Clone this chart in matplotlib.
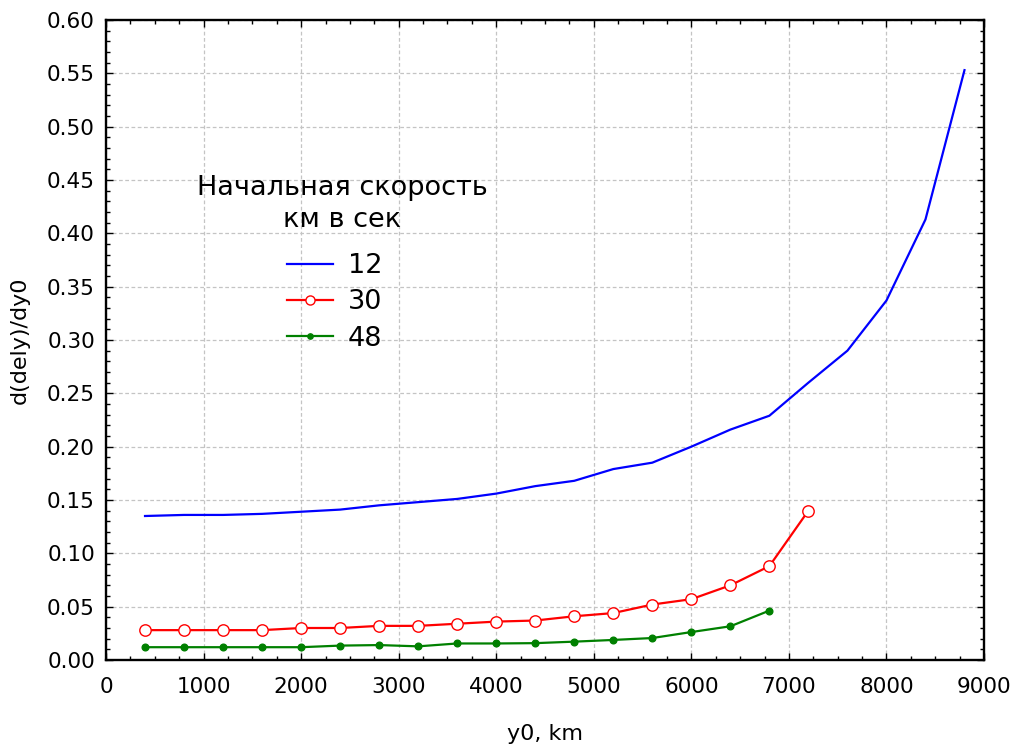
import matplotlib
matplotlib.use("Agg")
import matplotlib.pyplot as plt
from matplotlib.ticker import MultipleLocator

plt.rcParams['font.family'] = ['DejaVu Sans']

x12 = [400, 800, 1200, 1600, 2000, 2400, 2800, 3200, 3600, 4000, 4400, 4800,
       5200, 5600, 6000, 6400, 6800, 7200, 7600, 8000, 8400, 8800]
v12 = [0.135, 0.136, 0.136, 0.137, 0.139, 0.141, 0.145, 0.148, 0.151, 0.156, 0.163, 0.168,
       0.179, 0.185, 0.200, 0.216, 0.229, 0.260, 0.290, 0.337, 0.413, 0.553]

x30 = [400, 800, 1200, 1600, 2000, 2400, 2800, 3200, 3600, 4000, 4400, 4800,
       5200, 5600, 6000, 6400, 6800, 7200]
v30 = [0.028, 0.028, 0.028, 0.028, 0.030, 0.030, 0.032, 0.032, 0.034, 0.036, 0.037, 0.041,
       0.044, 0.052, 0.057, 0.070, 0.088, 0.140]

x48 = [400, 800, 1200, 1600, 2000, 2400, 2800, 3200, 3600, 4000, 4400, 4800,
       5200, 5600, 6000, 6400, 6800]
v48 = [0.012, 0.012, 0.012, 0.012, 0.012, 0.0135, 0.014, 0.0128, 0.0155, 0.0155, 0.0158, 0.0172,
       0.0188, 0.0206, 0.0262, 0.0316, 0.0463]

labels = ["12", "30", "48"]
legend_title = "Начальная скорость\nкм в сек"
xlabel = "y0, km"
ylabel = "d(dely)/dy0"

W, H = 1017, 746
fig = plt.figure(figsize=(W / 100, H / 100), dpi=100)
ax = fig.add_axes([106 / W, 1 - 660 / H, (984 - 106) / W, (660 - 20) / H])

ax.plot(x12, v12, color=(0, 0, 1), lw=1.6, label=labels[0])
ax.plot(x30, v30, color=(1, 0, 0), lw=1.6, marker='o', markersize=8.2,
        markerfacecolor='white', markeredgecolor=(1, 0, 0), markeredgewidth=1.0, label=labels[1])
ax.plot(x48, v48, color=(0, 0.5, 0), lw=1.6, marker='o', markersize=4.8,
        markerfacecolor=(0, 0.5, 0), markeredgecolor=(0, 0.5, 0), label=labels[2])

ax.set_xlim(0, 9000)
ax.set_ylim(0, 0.60)
ax.xaxis.set_major_locator(MultipleLocator(1000))
ax.xaxis.set_minor_locator(MultipleLocator(250))
ax.yaxis.set_major_locator(MultipleLocator(0.05))
ax.yaxis.set_minor_locator(MultipleLocator(0.01))
ax.yaxis.set_major_formatter(plt.FuncFormatter(lambda v, p: f"{v:.2f}"))

ax.tick_params(which='both', direction='in', top=True, right=True, width=1.0, colors='black')
ax.tick_params(which='major', length=5, labelsize=15.5, pad=8)
ax.tick_params(which='minor', length=3)
ax.tick_params(axis='x', which='major', pad=12)

for s in ax.spines.values():
    s.set_linewidth(1.7)
    s.set_color('black')

ax.grid(True, which='major', color='#c4c4c4', linestyle=(0, (3, 2)), linewidth=0.9)
ax.set_axisbelow(True)

ax.set_xlabel(xlabel, fontsize=16, labelpad=20)
ax.set_ylabel(ylabel, fontsize=16, labelpad=12)

fig.text(342 / W, 1 - 204 / H, legend_title, fontsize=19.5, ha='center', va='center',
         multialignment='center', linespacing=1.3)

leg = ax.legend(loc='upper left', bbox_to_anchor=(287 / W, 1 - 253 / H),
                bbox_transform=fig.transFigure,
                frameon=False, fontsize=19.5, handlelength=1.7,
                handletextpad=0.55, labelspacing=0.38, borderaxespad=0, borderpad=0,
                markerscale=0.8)

fig.savefig("out.png", dpi=100)
